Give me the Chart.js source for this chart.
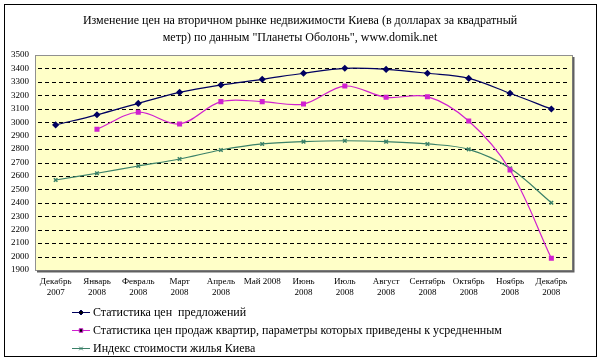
<!DOCTYPE html>
<html>
<head>
<meta charset="utf-8">
<script src="https://cdn.jsdelivr.net/npm/chart.js@4"></script>
<style>
  html, body { margin: 0; padding: 0; background: #fff; }
  #wrap { width: 600px; height: 361px; position: relative; }
</style>
</head>
<body>
<div id="wrap"><canvas id="myChart" width="600" height="361"></canvas></div>
<script>
// Chart data
const months = [
    ['Декабрь', '2007'], ['Январь', '2008'], ['Февраль', '2008'], ['Март', '2008'],
    ['Апрель', '2008'], 'Май 2008', ['Июнь', '2008'], ['Июль', '2008'],
    ['Август', '2008'], ['Сентябрь', '2008'], ['Октябрь', '2008'], ['Ноябрь', '2008'],
    ['Декабрь', '2008']
];
const offerPrices = [2980, 3055, 3140, 3222, 3277, 3319, 3364, 3401, 3393, 3364, 3326, 3215, 3098];
const salePrices = [null, 2947, 3074, 2987, 3153, 3153, 3135, 3269, 3185, 3190, 3009, 2644, 1987];
const kievIndex = [2570, 2620, 2674, 2726, 2793, 2838, 2855, 2862, 2855, 2838, 2798, 2657, 2401];

const seriesNames = [
    'Статистика цен  предложений',
    'Статистика цен продаж квартир, параметры которых приведены к усредненным',
    'Индекс стоимости жилья Киева'
];
const titleLines = [
    'Изменение цен на вторичном рынке недвижимости Киева (в долларах за квадратный',
    'метр) по данным "Планеты Оболонь", www.domik.net'
];

const serif = '"Liberation Serif", "DejaVu Serif", serif';
const colors = ['#000060', '#d020d0', '#3a8068'];
const markers = ['rectRot', 'rect', 'crossRot'];

// Background, dashed grid, plot frame, title and the legend at the bottom
const framePlugin = {
    id: 'frame',
    beforeDraw(chart) {
        const ctx = chart.ctx;
        const a = chart.chartArea;
        ctx.save();
        ctx.fillStyle = '#fff';
        ctx.fillRect(0, 0, chart.width, chart.height);
        ctx.fillStyle = '#ffffc8';
        ctx.fillRect(a.left, a.top, a.right - a.left, a.bottom - a.top);
        ctx.restore();
    },
    beforeDatasetsDraw(chart) {
        const ctx = chart.ctx;
        const a = chart.chartArea;
        const yScale = chart.scales.y;
        ctx.save();
        ctx.strokeStyle = '#000';
        ctx.lineWidth = 1;
        ctx.setLineDash([4, 3]);
        yScale.ticks.forEach(t => {
            if (t.value <= yScale.min || t.value >= yScale.max) return;
            const y = Math.round(yScale.getPixelForValue(t.value)) + 0.5;
            ctx.beginPath();
            ctx.moveTo(a.left + 3, y);
            ctx.lineTo(a.right - 2, y);
            ctx.stroke();
        });
        ctx.restore();
    },
    afterDatasetsDraw(chart) {
        const ctx = chart.ctx;
        const a = chart.chartArea;
        ctx.save();
        // plot border with shadow
        ctx.strokeStyle = '#909090';
        ctx.lineWidth = 1;
        ctx.strokeRect(a.left + 0.5, a.top + 0.5, a.right - a.left, a.bottom - a.top);
        ctx.strokeStyle = '#606060';
        ctx.lineWidth = 2;
        ctx.beginPath();
        ctx.moveTo(a.right + 1.5, a.top + 2);
        ctx.lineTo(a.right + 1.5, a.bottom + 1.5);
        ctx.lineTo(a.left + 2, a.bottom + 1.5);
        ctx.stroke();
        // outer border
        ctx.strokeStyle = '#000';
        ctx.lineWidth = 1;
        ctx.strokeRect(4.5, 4.5, 592, 352);
        // title
        ctx.fillStyle = '#000';
        ctx.font = '12px ' + serif;
        ctx.textAlign = 'center';
        ctx.textBaseline = 'middle';
        ctx.fillText(titleLines[0], 300, 21);
        ctx.fillText(titleLines[1], 300, 38);
        // legend
        ctx.textAlign = 'left';
        ctx.font = '12px ' + serif;
        const rows = [312, 330, 348];
        chart.data.datasets.forEach((ds, i) => {
            const y = rows[i];
            ctx.strokeStyle = ds.borderColor;
            ctx.lineWidth = 1;
            ctx.beginPath();
            ctx.moveTo(72, y + 0.5);
            ctx.lineTo(90, y + 0.5);
            ctx.stroke();
            Chart.helpers.drawPoint(ctx, {
                pointStyle: ds.pointStyle, radius: 2.5, borderWidth: 1.5
            }, 81, y + 0.5);
            ctx.fillStyle = '#000';
            ctx.fillText(seriesNames[i], 93, y + 1);
        });
        ctx.restore();
    }
};

function makeSeries(i, data) {
    return {
        label: seriesNames[i],
        data: data,
        borderColor: colors[i],
        backgroundColor: colors[i],
        pointBackgroundColor: colors[i],
        pointBorderColor: colors[i],
        pointStyle: markers[i],
        pointRadius: 2.5,
        pointBorderWidth: 1.5,
        borderWidth: 1.2,
        tension: 0.35,
        fill: false,
        spanGaps: false
    };
}

const ctx = document.getElementById('myChart').getContext('2d');
const myChart = new Chart(ctx, {
    type: 'line',
    data: {
        labels: months,
        datasets: [
            makeSeries(0, offerPrices),
            makeSeries(1, salePrices),
            makeSeries(2, kievIndex)
        ]
    },
    options: {
        responsive: false,
        animation: false,
        layout: { padding: { left: 0, right: 28, top: 55, bottom: 61 } },
        plugins: {
            legend: { display: false },
            title: { display: false },
            tooltip: { enabled: false }
        },
        scales: {
            x: {
                offset: true,
                grid: { display: false, drawTicks: false },
                border: { display: false },
                ticks: {
                    color: '#000',
                    font: { family: serif, size: 9 },
                    maxRotation: 0,
                    autoSkip: false,
                    padding: 6
                },
                afterFit(scale) { scale.height = 30; }
            },
            y: {
                min: 1900,
                max: 3500,
                grid: { display: false, drawTicks: false },
                border: { display: false },
                ticks: {
                    stepSize: 100,
                    autoSkip: false,
                    color: '#000',
                    font: { family: serif, size: 9 },
                    padding: 6,
                    callback: value => String(value)
                },
                afterFit(scale) { scale.width = 35; }
            }
        }
    },
    plugins: [framePlugin]
});
</script>
</body>
</html>
